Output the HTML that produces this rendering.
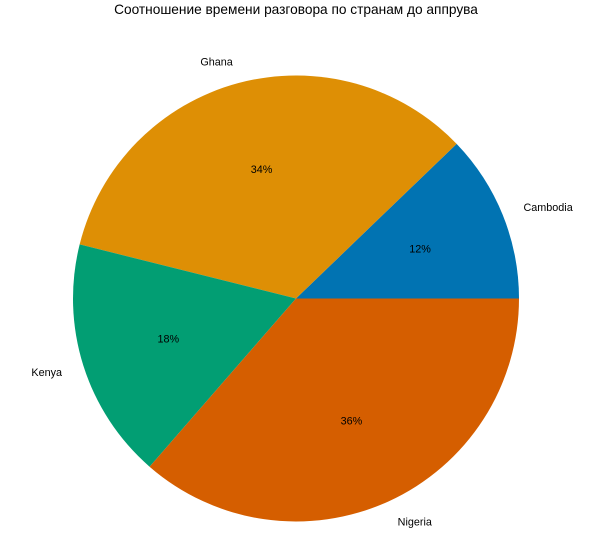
<!DOCTYPE html>
<html><head><meta charset="utf-8"><style>
body{margin:0;background:#fff;}
svg{display:block;font-family:"Liberation Sans","DejaVu Sans",sans-serif;}
</style></head><body>
<svg id="chart" width="602" height="554" viewBox="0 0 602 554">
<text x="296" y="14" text-anchor="middle" font-size="13.7">Соотношение времени разговора по странам до аппрува</text>
<g id="slices"></g>
<g id="labels"></g>
</svg>
<script>
const categories = ["Cambodia","Ghana","Kenya","Nigeria"];
const values = [12.2, 33.9, 17.5, 36.4];
const pctLabels = ["12%","34%","18%","36%"];
const colors = ["#0173b2","#de8f05","#029e73","#d55e00"];
const cx=296, cy=298.5, R=223;
const ns="http://www.w3.org/2000/svg";
const total=values.reduce((a,b)=>a+b,0);
const gS=document.getElementById('slices'), gL=document.getElementById('labels');
function pt(a,r){return [cx+r*Math.cos(a), cy-r*Math.sin(a)];}
let start=0;
values.forEach((v,i)=>{
  const sweep=v/total*2*Math.PI, end=start+sweep;
  const [x1,y1]=pt(start,R),[x2,y2]=pt(end,R);
  const p=document.createElementNS(ns,'path');
  p.setAttribute('d',`M${cx},${cy} L${x1},${y1} A${R},${R} 0 ${sweep>Math.PI?1:0} 0 ${x2},${y2} Z`);
  p.setAttribute('fill',colors[i]);
  
  
  gS.appendChild(p);
  const mid=start+sweep/2;
  const [lx,ly]=pt(mid,R*1.1);
  const t=document.createElementNS(ns,'text');
  t.setAttribute('x',lx);t.setAttribute('y',ly+4);
  t.setAttribute('font-size','10.8');
  t.setAttribute('text-anchor',Math.cos(mid)>0?'start':'end');
  t.textContent=categories[i];
  
  
  gL.appendChild(t);
  const [px,py]=pt(mid,R*0.6);
  const q=document.createElementNS(ns,'text');
  q.setAttribute('x',px);q.setAttribute('y',py+4);
  q.setAttribute('font-size','10.8');
  q.setAttribute('text-anchor','middle');
  q.textContent=pctLabels[i];
  
  
  gL.appendChild(q);
  start=end;
});
</script>
</body></html>
